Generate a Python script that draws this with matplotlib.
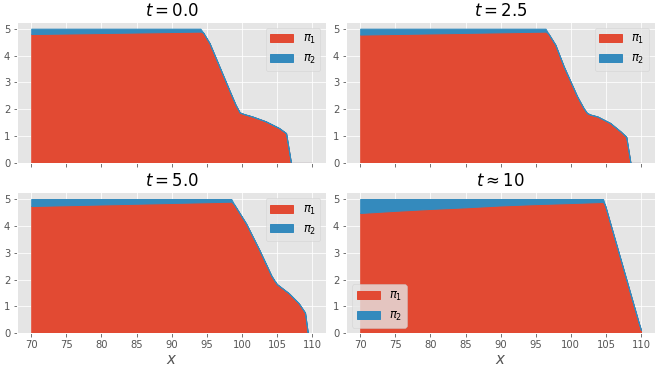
import matplotlib
matplotlib.use("Agg")
import matplotlib.pyplot as plt

plt.style.use("ggplot")
plt.rcParams["font.size"] = 10
plt.rcParams["axes.titlesize"] = 16.5
plt.rcParams["axes.labelsize"] = 15
plt.rcParams["legend.fontsize"] = 11.5

# t = 0.0
x_a = [70, 94.1, 94.5, 95.4, 96.8, 98.2, 99.1, 99.7, 100.3, 101.5, 103.4, 105.3, 106.3, 107.0, 110]
p1_a = [4.80, 4.89, 4.85, 4.46, 3.59, 2.72, 2.17, 1.88, 1.82, 1.73, 1.55, 1.30, 1.11, 0.0, 0.0]
p2_a = [0.20, 0.11, 0, 0, 0, 0, 0, 0, 0, 0, 0, 0, 0, 0, 0]

# t = 2.5
x_b = [70, 96.4, 96.8, 97.8, 99.0, 100.9, 101.8, 102.3, 102.8, 103.8, 105.6, 107.1, 107.9, 108.5, 110]
p1_b = [4.78, 4.89, 4.82, 4.40, 3.59, 2.48, 2.05, 1.86, 1.80, 1.73, 1.49, 1.17, 0.97, 0.0, 0.0]
p2_b = [0.22, 0.11, 0, 0, 0, 0, 0, 0, 0, 0, 0, 0, 0, 0, 0]

# t = 5.0
x_c = [70, 98.5, 98.9, 100.6, 102.5, 104.2, 104.6, 105.0, 106.7, 108.1, 109.0, 109.4, 110]
p1_c = [4.74, 4.90, 4.80, 4.09, 3.10, 2.15, 1.98, 1.83, 1.49, 1.12, 0.77, 0.0, 0.0]
p2_c = [0.26, 0.10, 0, 0, 0, 0, 0, 0, 0, 0, 0, 0, 0]

# t ~ 10
x_d = [70, 75, 80, 85, 90, 95, 100, 104.6, 104.9, 109.7, 110]
p1_d = [4.48, 4.56, 4.63, 4.69, 4.76, 4.81, 4.85, 4.89, 4.75, 0.37, 0.12]
p2_d = [0.52, 0.44, 0.37, 0.31, 0.24, 0.19, 0.15, 0.11, 0, 0, 0]

titles = ["$t = 0.0$", "$t = 2.5$", "$t = 5.0$", r"$t \approx 10$"]
panels = [(x_a, p1_a, p2_a), (x_b, p1_b, p2_b), (x_c, p1_c, p2_c), (x_d, p1_d, p2_d)]
legend_locs = ["upper right", "upper right", "upper right", "lower left"]

fig, axes = plt.subplots(2, 2, sharex=True, figsize=(661 / 72, 372 / 72), dpi=72)
fig.subplots_adjust(left=0.026, right=0.991, top=0.941, bottom=0.104,
                    wspace=0.065, hspace=0.208)

for ax, (x, p1, p2), title, loc in zip(axes.flat, panels, titles, legend_locs):
    polys = ax.stackplot(x, p1, p2, labels=[r"$\pi_1$", r"$\pi_2$"])
    for poly in polys:
        poly.set_edgecolor(poly.get_facecolor())
        poly.set_linewidth(1.0)
    ax.set_title(title)
    ax.legend(loc=loc)

for ax in axes[1]:
    ax.set_xlabel("$x$", labelpad=2)
    ax.set_xticks([70, 75, 80, 85, 90, 95, 100, 105, 110])

fig.savefig("out.png", dpi=72)
